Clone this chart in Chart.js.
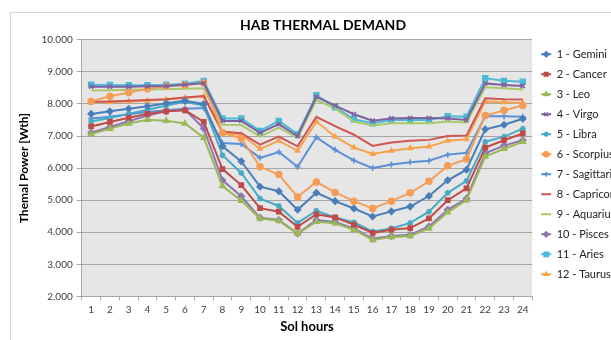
<!DOCTYPE html>
<html>
<head>
<meta charset="utf-8">
<script src="https://cdn.jsdelivr.net/npm/chart.js@4"></script>
<style>
  html, body { margin: 0; padding: 0; background: #fff; overflow: hidden; }
  #box { position: absolute; left: 10px; top: 12px; width: 622px; height: 334px; border: 1px solid #d4d4d4; }
</style>
</head>
<body>
<div id="box"><canvas id="chart"></canvas></div>
<script>
const hours = ['1','2','3','4','5','6','7','8','9','10','11','12','13','14','15','16','17','18','19','20','21','22','23','24'];
const yTicks = [2000, 3000, 4000, 5000, 6000, 7000, 8000, 9000, 10000];

// thermal demand per sol hour [Wth]
const gemini = [7690,7770,7850,7930,8020,8100,8000,6680,6210,5420,5280,4700,5230,4970,4740,4490,4650,4800,5130,5620,5950,7210,7350,7540];
const cancer = [7300,7440,7570,7690,7770,7800,7440,5970,5470,4750,4640,4170,4560,4460,4240,3980,4080,4130,4430,5000,5370,6640,6870,7080];
const leo = [7060,7230,7390,7510,7480,7390,6950,5440,4980,4430,4360,3950,4330,4280,4080,3760,3850,3880,4120,4620,5000,6360,6600,6820];
const virgo = [8540,8540,8540,8550,8560,8600,8650,7470,7470,7100,7370,7000,8220,7950,7680,7480,7550,7560,7560,7550,7500,8640,8590,8560];
const libra = [7450,7560,7690,7820,7950,8070,7950,6400,5850,5050,4820,4290,4670,4460,4310,4020,4120,4290,4640,5230,5600,6820,6980,7230];
const scorpius = [8080,8240,8360,8470,8550,8590,8650,7100,6930,6040,5800,5100,5570,5240,4970,4740,4970,5230,5590,6070,6280,7640,7800,7950];
const sagittarius = [7550,7600,7680,7750,7800,7850,7870,6780,6750,6320,6500,6040,6960,6570,6240,6000,6110,6180,6230,6420,6480,7620,7620,7600];
const capricorn = [8070,8080,8100,8120,8150,8200,8250,7140,7090,6730,6980,6680,7600,7310,7040,6690,6800,6850,6880,7000,7020,8180,8150,8140];
const aquarius = [8420,8430,8440,8450,8460,8470,8490,7350,7340,6980,7260,6950,8120,7860,7450,7330,7400,7400,7400,7450,7420,8520,8490,8450];
const pisces = [7100,7280,7460,7640,7770,7820,7240,5620,5120,4450,4380,3960,4380,4320,4120,3800,3880,3920,4180,4700,5050,6460,6700,6870];
const aries = [8600,8590,8580,8580,8600,8630,8720,7550,7550,7160,7470,7060,8270,7900,7520,7400,7500,7500,7500,7620,7600,8800,8720,8690];
const taurus = [8050,8050,8080,8100,8140,8190,8240,7090,7040,6600,6850,6540,7450,6980,6640,6440,6540,6620,6670,6850,6900,8080,8050,8030];

const seriesNames = ['1 - Gemini','2 - Cancer','3 - Leo','4 - Virgo','5 - Libra','6 - Scorpius','7 - Sagittarius','8 - Capricorn','9 - Aquarius','10 - Pisces','11 - Aries','12 - Taurus'];
const seriesData = [gemini, cancer, leo, virgo, libra, scorpius, sagittarius, capricorn, aquarius, pisces, aries, taurus];
const colors = ['#4a7ebb','#be4b48','#98b954','#7d60a0','#46aac5','#f59d56','#5b8fd6','#cf5552','#a9c86a','#8f74b3','#4cbad6','#f7a34d'];
const markers = ['rectRot','rect','triangle','crossRot','star','circle','cross','line','line','rectRot','rect','triangle'];
const radii = [3,3,3,3,3,3,3,0,0,3,3.5,2.5];

const font = 'Lato, "Open Sans", sans-serif';

// grey plot area like the spreadsheet chart
const plotBg = {
    id: 'plotBg',
    beforeDraw(chart) {
        const a = chart.chartArea;
        const ctx = chart.ctx;
        ctx.save();
        ctx.fillStyle = '#e6e6e6';
        ctx.fillRect(a.left, a.top, a.right - a.left, a.bottom - a.top);
        ctx.restore();
    }
};

// put the series marker on top of the legend line
const legendMarkers = {
    id: 'legendMarkers',
    afterDraw(chart) {
        const lg = chart.legend;
        if (!lg || !lg.legendHitBoxes) return;
        const ctx = chart.ctx;
        lg.legendHitBoxes.forEach((box, i) => {
            const ds = chart.data.datasets[i];
            if (!ds.pointRadius) return;
            ctx.save();
            ctx.fillStyle = ds.borderColor;
            ctx.strokeStyle = ds.borderColor;
            ctx.lineWidth = 1.5;
            Chart.helpers.drawPoint(ctx, {
                pointStyle: ds.pointStyle,
                radius: ds.pointRadius * 0.85,
                rotation: 0,
                borderWidth: 1.5
            }, box.left + 5, box.top + box.height / 2);
            ctx.restore();
        });
    }
};

const datasets = seriesData.map((d, i) => ({
    label: seriesNames[i],
    data: d,
    borderColor: colors[i],
    backgroundColor: colors[i],
    borderWidth: 2,
    pointStyle: markers[i],
    pointRadius: radii[i],
    pointBorderWidth: 1.5,
    tension: 0,
    fill: false
}));

new Chart(document.getElementById('chart'), {
    type: 'line',
    data: { labels: hours, datasets },
    options: {
        responsive: true,
        maintainAspectRatio: false,
        animation: false,
        layout: { padding: { left: 2, right: 0, top: 0, bottom: 8 } },
        plugins: {
            title: {
                display: true,
                text: 'HAB THERMAL DEMAND',
                color: '#000',
                font: { family: font, size: 14, weight: 'bold' },
                padding: { top: 4, bottom: 6 }
            },
            legend: {
                position: 'right',
                fullSize: false,
                align: 'start',
                labels: {
                    usePointStyle: true,
                    pointStyle: 'line',
                    pointStyleWidth: 10,
                    padding: 9,
                    color: '#222',
                    font: { family: font, size: 11 },
                    generateLabels(chart) {
                        return chart.data.datasets.map((ds, i) => ({
                            text: ds.label,
                            fillStyle: ds.borderColor,
                            strokeStyle: ds.borderColor,
                            lineWidth: 2,
                            pointStyle: 'line',
                            datasetIndex: i,
                            fontColor: '#222'
                        }));
                    }
                }
            },
            tooltip: { enabled: false }
        },
        scales: {
            x: {
                offset: true,
                grid: { display: true, drawOnChartArea: false, offset: true, tickLength: 4, color: '#a6a6a6' },
                border: { color: '#a6a6a6' },
                ticks: { color: '#404040', font: { family: font, size: 10 }, maxRotation: 0, padding: 3 },
                title: { display: true, text: 'Sol hours', color: '#000', font: { family: font, size: 13, weight: 'bold' }, padding: { top: 1 } }
            },
            y: {
                min: 2000,
                max: 10000,
                afterBuildTicks(axis) { axis.ticks = yTicks.map(v => ({ value: v })); },
                grid: { color: '#a6a6a6', tickLength: 5 },
                border: { color: '#a6a6a6' },
                ticks: {
                    color: '#404040',
                    font: { family: font, size: 10 },
                    padding: 4,
                    callback: v => String(v).replace(/\B(?=(\d{3})+(?!\d))/g, '.')
                },
                title: { display: true, text: 'Themal Power [Wth]', color: '#000', font: { family: font, size: 12, weight: 'bold' }, padding: { top: 4, bottom: 6 } }
            }
        }
    },
    plugins: [plotBg, legendMarkers]
});
</script>
</body>
</html>
